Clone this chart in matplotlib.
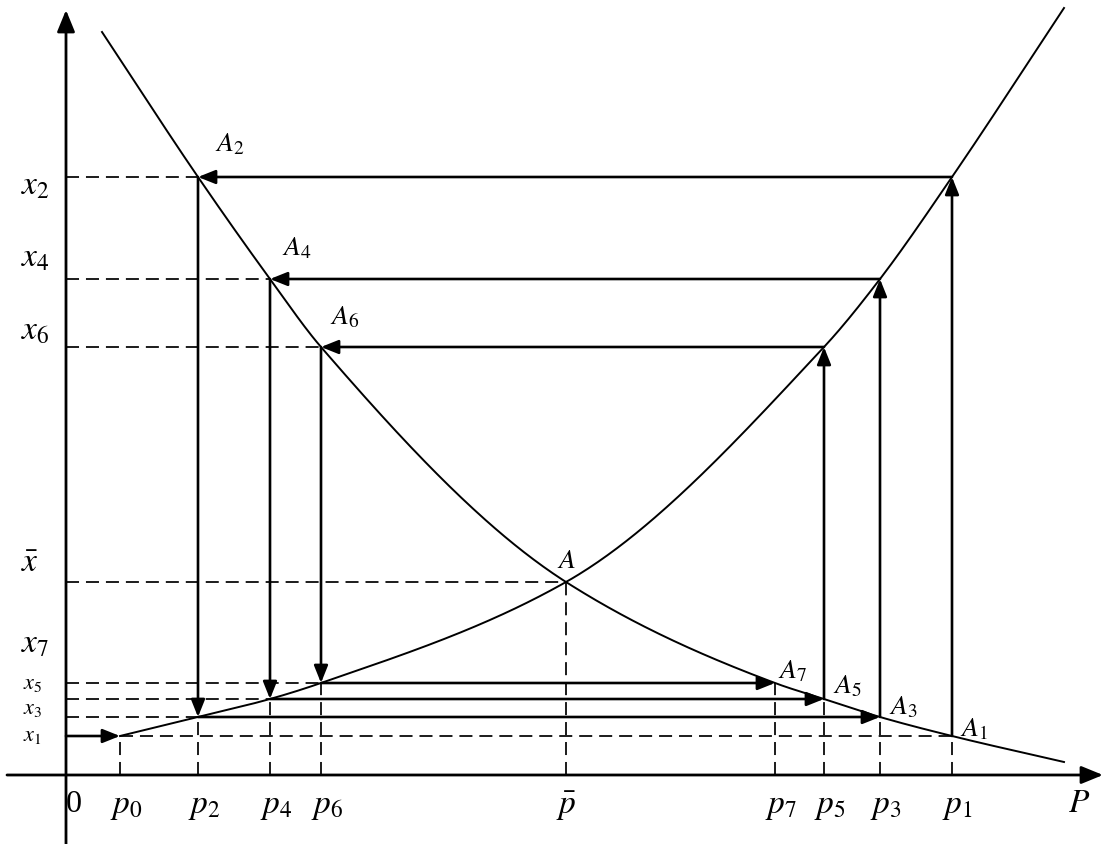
import numpy as np
import matplotlib
matplotlib.use("Agg")
import matplotlib.pyplot as plt

# prices on the horizontal axis
p_names = ["p_0", "p_2", "p_4", "p_6", r"\bar{p}", "p_7", "p_5", "p_3", "p_1"]
p_vals = [54, 132, 204, 255, 500, 709, 758, 814, 886]
p0, p2, p4, p6, pbar, p7, p5, p3, p1 = p_vals

# quantities on the vertical axis
x1, x3, x5, x7 = 39, 58, 76, 92
xbar = 193
x6, x4, x2 = 428, 496, 598

# supply curve (rising) and demand curve (falling) knots
supply_p = [54, 132, 204, 255, 500, 758, 814, 886, 998]
supply_x = [39, 58, 76, 92, 193, 428, 496, 598, 767]
demand_p = [36, 132, 204, 255, 500, 709, 758, 814, 886, 998]
demand_x = [743, 598, 496, 428, 193, 92, 76, 58, 39, 13]

# cobweb path: each leg is (start, end)
legs = [
    ((0, x1), (p0, x1)),
    ((p1, x1), (p1, x2)),
    ((p1, x2), (p2, x2)),
    ((p2, x2), (p2, x3)),
    ((p2, x3), (p3, x3)),
    ((p3, x3), (p3, x4)),
    ((p3, x4), (p4, x4)),
    ((p4, x4), (p4, x5)),
    ((p4, x5), (p5, x5)),
    ((p5, x5), (p5, x6)),
    ((p5, x6), (p6, x6)),
    ((p6, x6), (p6, x7)),
    ((p6, x7), (p7, x7)),
]


def pchip(xk, yk, n=400):
    # monotone cubic through the knots
    xk = np.asarray(xk, float)
    yk = np.asarray(yk, float)
    h = np.diff(xk)
    d = np.diff(yk) / h
    m = np.zeros_like(xk)
    for i in range(1, len(xk) - 1):
        if d[i - 1] * d[i] > 0:
            w1 = 2 * h[i] + h[i - 1]
            w2 = h[i] + 2 * h[i - 1]
            m[i] = (w1 + w2) / (w1 / d[i - 1] + w2 / d[i])
    m[0] = d[0]
    m[-1] = d[-1]
    xs = np.linspace(xk[0], xk[-1], n)
    idx = np.clip(np.searchsorted(xk, xs) - 1, 0, len(h) - 1)
    t = (xs - xk[idx]) / h[idx]
    h00 = 2 * t**3 - 3 * t**2 + 1
    h10 = t**3 - 2 * t**2 + t
    h01 = -2 * t**3 + 3 * t**2
    h11 = t**3 - t**2
    ys = (h00 * yk[idx] + h10 * h[idx] * m[idx]
          + h01 * yk[idx + 1] + h11 * h[idx] * m[idx + 1])
    return xs, ys


fig = plt.figure(figsize=(11.03, 8.44), dpi=100)
ax = fig.add_axes([0, 0, 1, 1])
ax.set_xlim(-66, 1037)
ax.set_ylim(-69, 775)
ax.axis("off")

dash = (0, (7.5, 4))
dkw = dict(color="black", lw=1.25, linestyle=dash)
head = "-|>,head_length=0.95,head_width=0.38"

# axes with arrow heads
for a, b in [((0, -69), (0, 765)), ((-59, 0), (1037, 0))]:
    ax.annotate("", xy=b, xytext=a,
                arrowprops=dict(arrowstyle="-|>,head_length=1.1,head_width=0.45",
                                lw=2.0, color="black", shrinkA=0, shrinkB=0,
                                mutation_scale=12))

# curves
sx, sy = pchip(supply_p, supply_x)
ax.plot(sx, sy, color="black", lw=1.4)
dx, dy = pchip(demand_p, demand_x)
ax.plot(dx, dy, color="black", lw=1.4)

# horizontal guide lines to the quantity axis
for p, x in [(p2, x2), (p4, x4), (p6, x6), (pbar, xbar),
             (p6, x7), (p4, x5), (p2, x3)]:
    ax.plot([0, p], [x, x], **dkw)
ax.plot([p0, p1], [x1, x1], **dkw)

# vertical guide lines to the price axis
for p, x in [(p0, x1), (p2, x3), (p4, x5), (p6, x7), (pbar, xbar),
             (p7, x7), (p5, x5), (p3, x3), (p1, x1)]:
    ax.plot([p, p], [0, x], **dkw)

# cobweb arrows
for start, end in legs:
    ax.annotate("", xy=end, xytext=start,
                arrowprops=dict(arrowstyle=head, lw=1.9, color="black",
                                shrinkA=0, shrinkB=0, mutation_scale=11))

# price labels
for name, p in zip(p_names, p_vals):
    ax.text(p - 10, -31, f"${name}$", fontsize=24, ha="left", va="center",
            math_fontfamily="stix")
ax.text(0, -30, "0", fontsize=23, ha="left", va="center",
        family="Liberation Serif")
ax.text(1002, -28, "$P$", fontsize=24, ha="left", va="center",
        math_fontfamily="stix")

# quantity labels
big_x = [("x_2", 590), ("x_4", 518), ("x_6", 445), (r"\bar{x}", 213), ("x_7", 132)]
for name, y in big_x:
    ax.text(-45, y, f"${name}$", fontsize=24, ha="left", va="center",
            math_fontfamily="stix")
small_x = [("x_5", 91), ("x_3", 66), ("x_1", 39)]
for name, y in small_x:
    ax.text(-43, y, f"${name}$", fontsize=16, ha="left", va="center",
            math_fontfamily="stix")

# point labels
point_labels = [("A_2", 149, 632), ("A_4", 216, 528), ("A_6", 264, 459),
                ("A", 491, 215), ("A_7", 712, 105), ("A_5", 767, 90),
                ("A_3", 823, 69), ("A_1", 894, 47)]
for name, px, py in point_labels:
    ax.text(px, py, f"${name}$", fontsize=20, ha="left", va="center",
            math_fontfamily="stix")

fig.savefig("out.png", dpi=100)
